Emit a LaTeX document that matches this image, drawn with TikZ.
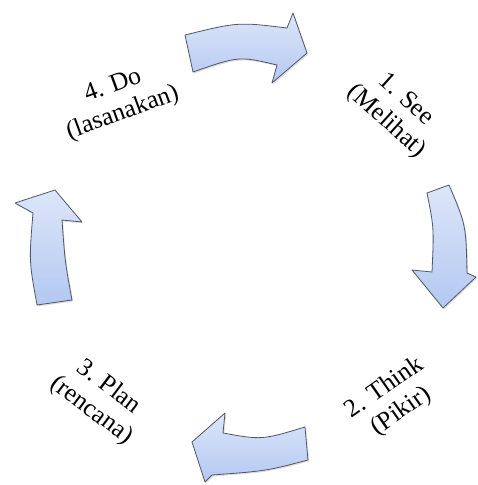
\documentclass[tikz,border=0pt]{standalone}
\usepackage{fontspec}
\setmainfont{Liberation Serif}
\usetikzlibrary{shadows}
\definecolor{arrline}{HTML}{4F5668}
\definecolor{arrtop}{HTML}{DDE6F9}
\definecolor{arrbot}{HTML}{B3C8F1}
\begin{document}
\begin{tikzpicture}[x=1pt,y=-1pt]
\tikzset{
  cyclearrow/.style={draw=arrline, line width=0.8pt, line join=round,
    top color=arrtop, bottom color=arrbot,
    drop shadow={opacity=0.25, shadow xshift=1.2pt, shadow yshift=-1.5pt}},
  steplabel/.style={align=center, font=\fontsize{25.5}{29}\selectfont, inner sep=0pt}
}
\useasboundingbox (0,0) rectangle (477,485);
% top arrow
\path[cyclearrow] (185,35) .. controls (238,22) .. (287,28) -- (293,13) -- (307,53)
  -- (272,83) -- (277,65) .. controls (239,56) .. (193,72) -- cycle;
% right arrow
\path[cyclearrow] (427,193) -- (449,185) .. controls (466,225) .. (467,273)
  -- (476,277) -- (443,308) -- (412,270) -- (432,272) .. controls (434,228) .. (427,193) -- cycle;
% bottom arrow
\path[cyclearrow] (305,427) -- (308,460) .. controls (266,471) .. (212,475)
  -- (205,482) -- (192,442) -- (225,413) -- (223,433) .. controls (262,440) .. (305,427) -- cycle;
% left arrow
\path[cyclearrow] (72,300) -- (37,305) .. controls (29,261) .. (33,213)
  -- (15,203) -- (55,190) -- (82,222) -- (62,220) .. controls (65,262) .. (72,300) -- cycle;
% labels
\node[steplabel, rotate=-42] (see) at (396,111) {1. See\\(Melihat)};
\node[steplabel, rotate=35] (think) at (393,400) {2. Think\\(Pikir)};
\node[steplabel, rotate=-37] (plan) at (100,399) {3. Plan\\(rencana)};
\node[steplabel, rotate=20] (do) at (118,100) {4. Do\\(lasanakan)};
\end{tikzpicture}
\end{document}
